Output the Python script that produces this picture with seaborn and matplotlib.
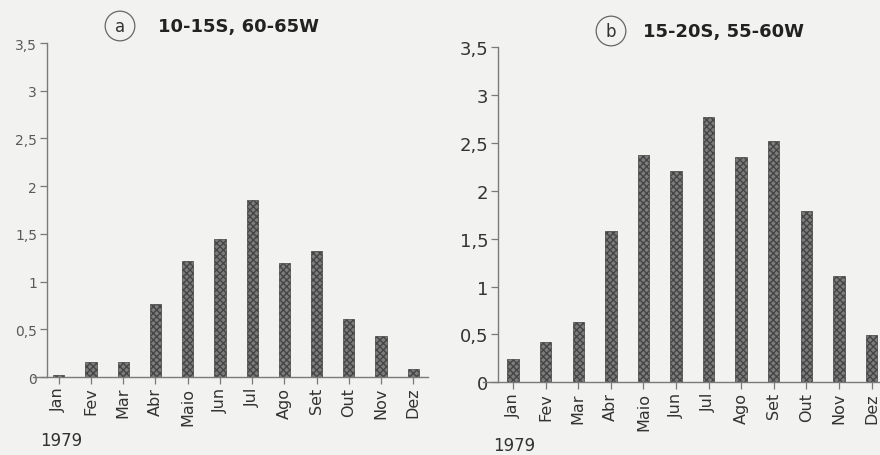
import matplotlib.pyplot as plt
import pandas as pd
import seaborn as sns

# Monthly values (1979)
months = ['Jan', 'Fev', 'Mar', 'Abr', 'Maio', 'Jun', 'Jul', 'Ago', 'Set', 'Out', 'Nov', 'Dez']
values_a = [0.02, 0.16, 0.16, 0.76, 1.22, 1.45, 1.86, 1.19, 1.32, 0.61, 0.43, 0.08]
values_b = [0.24, 0.42, 0.63, 1.58, 2.37, 2.21, 2.77, 2.35, 2.52, 1.79, 1.11, 0.49]
yticks = [0, 0.5, 1, 1.5, 2, 2.5, 3, 3.5]
ytick_labels = ['0', '0,5', '1', '1,5', '2', '2,5', '3', '3,5']
title_a = '10-15S, 60-65W'
title_b = '15-20S, 55-60W'
year = '1979'

sns.set_style('ticks')
plt.rcParams['font.family'] = ['DejaVu Sans']

BG = '#f2f2f0'
BAR = '#7c7c7c'
EDGE = '#454545'


def draw_panel(ax, values, spine_x, xlim, ylab_size, ylab_color):
    df = pd.DataFrame({'month': months, 'value': values})
    sns.barplot(data=df, x='month', y='value', ax=ax, color=BAR, saturation=1,
                width=0.35, edgecolor=EDGE, linewidth=0.5)
    for p in ax.patches:
        p.set_hatch('xxxxx')
    ax.set_facecolor(BG)
    ax.set_xlim(*xlim)
    ax.set_ylim(0, 3.5)
    ax.set_xlabel('')
    ax.set_ylabel('')
    ax.spines['top'].set_visible(False)
    ax.spines['right'].set_visible(False)
    ax.spines['left'].set_position(('data', spine_x))
    for s in ('left', 'bottom'):
        ax.spines[s].set_color('#7a7a7a')
        ax.spines[s].set_linewidth(1)
    ax.set_yticks(yticks)
    ax.set_yticklabels(ytick_labels, fontsize=ylab_size, color=ylab_color)
    ax.set_xticks(range(len(months)))
    ax.set_xticklabels(months, rotation=90, fontsize=11.5, color='#333333')
    ax.tick_params(axis='both', length=5, width=0.9, color='#7a7a7a', pad=2)


fig = plt.figure(figsize=(8.8, 4.56), dpi=100)
fig.patch.set_facecolor(BG)

ax_a = fig.add_axes([0.0375, 0.171, 0.449, 0.7325])
draw_panel(ax_a, values_a, -0.37, (-0.8, 11.46), 10, '#5a5a5a')

ax_b = fig.add_axes([0.549, 0.1594, 0.451, 0.7346])
draw_panel(ax_b, values_b, -0.46, (-0.92, 11.26), 13, '#333333')

circle = dict(boxstyle='circle,pad=0.35', fc='none', ec='#666666', lw=0.9)
fig.text(120 / 880, 1 - 27 / 456, 'a', ha='center', va='center', fontsize=12,
         color='#333333', bbox=circle)
fig.text(158 / 880, 1 - 27 / 456, title_a, ha='left', va='center', fontsize=13,
         fontweight='bold', color='#222222')
fig.text(611 / 880, 1 - 32 / 456, 'b', ha='center', va='center', fontsize=12,
         color='#333333', bbox=circle)
fig.text(643 / 880, 1 - 32 / 456, title_b, ha='left', va='center', fontsize=13,
         fontweight='bold', color='#222222')

fig.text(61 / 880, 1 - 441 / 456, year, ha='center', va='center', fontsize=12, color='#333333')
fig.text(514 / 880, 1 - 446 / 456, year, ha='center', va='center', fontsize=12, color='#333333')

fig.savefig('out.png', dpi=100, facecolor=BG)
